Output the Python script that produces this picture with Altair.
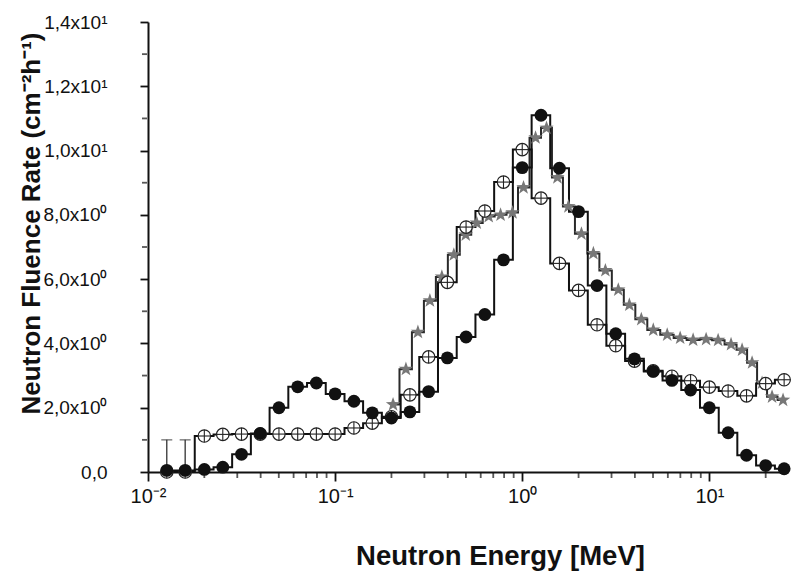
import altair as alt
import pandas as pd

# ---- data ----
energy = [0.0126, 0.0158, 0.0200, 0.0251, 0.0316, 0.0398, 0.0501, 0.0631, 0.0794, 0.100,
          0.126, 0.158, 0.200, 0.251, 0.316, 0.398, 0.501, 0.631, 0.794, 1.00,
          1.26, 1.58, 2.00, 2.51, 3.16, 3.98, 5.01, 6.31, 7.94, 10.0,
          12.6, 15.8, 20.0, 25.1]
filled_vals = [0.05, 0.05, 0.08, 0.15, 0.55, 1.2, 2.0, 2.65, 2.77, 2.43,
               2.2, 1.84, 1.68, 1.87, 2.5, 3.55, 4.2, 4.9, 6.6, 9.47,
               11.1, 9.45, 8.1, 5.8, 4.3, 3.52, 3.13, 2.85, 2.55, 2.0,
               1.22, 0.52, 0.2, 0.1]
open_vals = [0.0, 0.0, 1.12, 1.17, 1.18, 1.18, 1.18, 1.18, 1.18, 1.18,
             1.37, 1.52, 1.72, 2.4, 3.58, 5.9, 7.62, 8.12, 9.02, 10.03,
             8.52, 6.49, 5.65, 4.58, 3.93, 3.45, 3.15, 2.98, 2.84, 2.64,
             2.52, 2.37, 2.75, 2.87]
star_energy = [0.204, 0.239, 0.277, 0.321, 0.372, 0.431, 0.499, 0.571, 0.662, 0.766,
               0.887, 1.016, 1.178, 1.348, 1.542, 1.766, 2.072, 2.400, 2.782, 3.261,
               3.736, 4.329, 5.016, 5.953, 6.982, 8.19, 9.61, 11.14, 13.06, 14.96,
               16.92, 19.13, 21.63, 24.77]
star_vals = [2.1, 3.2, 4.35, 5.33, 6.07, 6.76, 7.38, 7.75, 7.95, 8.0,
             8.07, 8.85, 10.4, 10.7, 9.16, 8.26, 7.41, 6.8, 6.27, 5.67,
             5.2, 4.75, 4.42, 4.27, 4.17, 4.11, 4.13, 4.1, 3.97, 3.8,
             3.4, 2.77, 2.34, 2.24]
err_energy = [0.0126, 0.0158]
err_low = [0.0, 0.0]
err_high = [1.0, 1.0]

x_major = [0.01, 0.1, 1, 10]
x_major_labels = ["10⁻²", "10⁻¹", "10⁰", "10¹"]
x_minor = [0.02, 0.03, 0.04, 0.05, 0.06, 0.07, 0.08, 0.09,
           0.2, 0.3, 0.4, 0.5, 0.6, 0.7, 0.8, 0.9,
           2, 3, 4, 5, 6, 7, 8, 9, 20]
y_major = [0, 2, 4, 6, 8, 10, 12, 14]
y_major_labels = ["0,0", "2,0x10⁰", "4,0x10⁰", "6,0x10⁰", "8,0x10⁰",
                  "1,0x10¹", "1,2x10¹", "1,4x10¹"]
y_minor = [1, 3, 5, 7, 9, 11, 13]

# ---- tables ----
df_filled = pd.DataFrame({"E": energy, "v": filled_vals})
df_open = pd.DataFrame({"E": energy, "v": open_vals})
df_star = pd.DataFrame({"E": star_energy, "v": star_vals})
df_err = pd.DataFrame({"E": err_energy, "v": err_low, "hi": err_high})
df_cap = pd.DataFrame({"E": err_energy, "v": err_high})
df_xminor = pd.DataFrame({"E": x_minor, "v": [0.0] * len(x_minor)})
df_yminor = pd.DataFrame({"E": [0.01] * len(y_minor), "v": y_minor})

def label_expr(values, labels):
    parts = [f"datum.value == {v} ? '{l}'" for v, l in zip(values, labels)]
    return " : ".join(parts) + " : ''"

FONT = "Liberation Sans"
STAR = ("M0,-1L0.235,-0.324L0.951,-0.309L0.380,0.124L0.588,0.809L0,0.4"
        "L-0.588,0.809L-0.380,0.124L-0.951,-0.309L-0.235,-0.324Z")

xscale = alt.Scale(type="log", domain=[0.01, 26], nice=False)
yscale = alt.Scale(domain=[0, 14], nice=False)

xaxis = alt.Axis(
    values=x_major,
    labelExpr=label_expr(x_major, x_major_labels),
    tickSize=9, labelOverlap=False, labelFlush=False,
    labelFontSize=20, labelFont=FONT, labelColor="#111", labelPadding=5,
    title="Neutron Energy [MeV]", titleFont=FONT, titleFontSize=27.5,
    titleFontWeight="bold", titleColor="#111",
    titleX=352, titleY=92, titleAlign="center", titleBaseline="alphabetic",
    domainColor="#111", domainWidth=2, tickColor="#111", tickWidth=1.8,
    grid=False,
)
yaxis = alt.Axis(
    values=y_major,
    labelExpr=label_expr(y_major, y_major_labels),
    tickSize=8, labelOverlap=False, labelFlush=False,
    labelFontSize=19, labelFont=FONT, labelColor="#111", labelPadding=33,
    title="Neutron Fluence Rate (cm⁻²h⁻¹)", titleFont=FONT, titleFontSize=26,
    titleFontWeight="bold", titleColor="#111",
    titleX=-109, titleY=201, titleAngle=270, titleAlign="center",
    titleBaseline="alphabetic",
    domainColor="#111", domainWidth=2, tickColor="#111", tickWidth=1.8,
    grid=False,
)

X = alt.X("E:Q", scale=xscale, axis=xaxis)
Y = alt.Y("v:Q", scale=yscale, axis=yaxis)

x_minor_ticks = alt.Chart(df_xminor).mark_tick(
    orient="vertical", size=5, thickness=1.8, color="#111", yOffset=3.5,
    clip=False)
y_minor_ticks = alt.Chart(df_yminor).mark_tick(
    orient="horizontal", size=5, thickness=1.8, color="#111", xOffset=-3.5,
    clip=False)

err_rule = alt.Chart(df_err).mark_rule(color="#333", strokeWidth=1.3).encode(
    y2="hi:Q")
err_cap = alt.Chart(df_cap).mark_tick(color="#333", orient="horizontal",
                                      size=11, thickness=1.3)

star_line = alt.Chart(df_star).mark_line(interpolate="step", color="#2a2a2a",
                                         strokeWidth=2)
open_line = alt.Chart(df_open).mark_line(interpolate="step", color="#111",
                                         strokeWidth=2)
filled_line = alt.Chart(df_filled).mark_line(interpolate="step", color="#111",
                                             strokeWidth=2)

star_pts = alt.Chart(df_star).mark_point(shape=STAR, filled=True,
                                         color="#777777", size=230,
                                         opacity=1)
open_pts = alt.Chart(df_open).mark_point(shape="circle", filled=True,
                                         fill="white", stroke="#222",
                                         strokeWidth=1.2, size=155,
                                         opacity=1)
open_h = alt.Chart(df_open).mark_point(shape="stroke", filled=False,
                                       stroke="#222", strokeWidth=1.1,
                                       size=155, opacity=1)
open_v = alt.Chart(df_open).mark_point(shape="stroke", filled=False,
                                       stroke="#222", strokeWidth=1.1,
                                       size=155, opacity=1, angle=90)
filled_pts = alt.Chart(df_filled).mark_point(shape="circle", filled=True,
                                             color="#111", size=165,
                                             opacity=1)

chart = alt.layer(
    x_minor_ticks, y_minor_ticks,
    err_rule, err_cap, star_line, open_line, filled_line,
    star_pts, open_pts, open_h, open_v, filled_pts
).encode(
    x=X, y=Y
).properties(
    width=639, height=450,
    autosize=alt.AutoSizeParams(type="none"),
    padding={"left": 148, "top": 22, "right": 6, "bottom": 101},
    background="white",
).configure_view(strokeWidth=0)

chart.save("out.html", embed_options={"renderer": "svg", "actions": False})
